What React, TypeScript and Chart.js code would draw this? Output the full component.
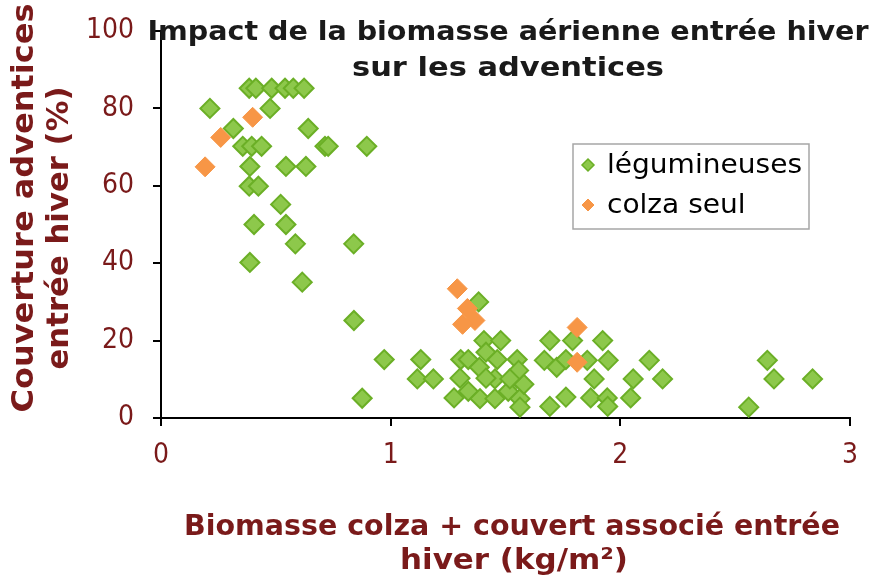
import React, { useEffect, useRef } from "react";
import { Chart, registerables } from "chart.js";

Chart.register(...registerables);

// ---- data ----
const xTicks = [0, 1, 2, 3];
const yTicks = [0, 20, 40, 60, 80, 100];

const seriesNames = ["légumineuses", "colza seul"];

const legumeX = [
  0.384, 0.413, 0.482, 0.540, 0.576, 0.623, 0.213, 0.475, 0.315, 0.641,
  0.356, 0.395, 0.438, 0.714, 0.728, 0.896, 0.387, 0.544, 0.631, 0.384,
  0.424, 0.521, 0.405, 0.544, 0.585, 0.839, 0.387, 0.615, 0.840, 0.972,
  0.876, 1.131, 1.116, 1.186, 1.276, 1.302, 1.305, 1.338, 1.383, 1.406,
  1.479, 1.415, 1.464, 1.551, 1.386, 1.338, 1.389, 1.454, 1.454, 1.512,
  1.549, 1.563, 1.563, 1.580, 1.557, 1.415, 1.693, 1.792, 1.923, 1.669,
  1.723, 1.763, 1.856, 1.947, 1.886, 1.763, 1.693, 1.871, 1.943, 1.945,
  2.056, 2.045, 2.126, 2.184, 2.640, 2.669, 2.837, 2.559, 1.519,
];
const legumeY = [
  85.2, 85.2, 85.2, 85.2, 85.2, 85.2, 80, 80, 74.8, 74.8,
  70.2, 70.2, 70.2, 70.2, 70.2, 70.2, 65, 65, 65, 59.9,
  59.9, 55.2, 50, 50, 45, 45, 40.2, 35.1, 25.2, 15.1,
  5.1, 15.1, 10.1, 10.1, 5.2, 10.3, 15.1, 15.1, 30, 20,
  20, 17, 15.1, 15.1, 13.1, 6.9, 5, 5, 10.1, 6.9,
  10.3, 5, 2.8, 8.7, 12.3, 10.3, 20, 20, 20, 14.9,
  13.1, 15.1, 14.9, 14.9, 10.1, 5.4, 3, 5.2, 5.2, 3,
  10.1, 5.2, 14.9, 10.1, 14.9, 10.1, 10.1, 2.8, 10.1,
];

const colzaX = [0.192, 0.260, 0.399, 1.290, 1.334, 1.367, 1.313, 1.812, 1.812];
const colzaY = [64.9, 72.5, 77.7, 33.4, 28.3, 25.2, 24.2, 23.4, 14.4];

const titleLines = ["Impact de la biomasse aérienne entrée hiver", "sur les adventices"];
const xTitleLines = ["Biomasse colza + couvert associé entrée", "hiver (kg/m²)"];
const yTitleLines = ["Couverture adventices", "entrée hiver (%)"];

// ---- styles ----
const GREEN_FILL = "#8DC84B";
const GREEN_BORDER = "#6BAF26";
const ORANGE = "#F79646";
const AXIS_RED = "#7A1A1A";
const CONDENSED = '"DejaVu Sans Condensed", "Liberation Sans Narrow", "DejaVu Sans", sans-serif';
const SANS = '"DejaVu Sans", Verdana, sans-serif';

function drawFitted(
  ctx: CanvasRenderingContext2D,
  lines: string[],
  pos: [number, number][],
  widths: number[],
  font: string,
  color: string,
  rotate = 0
) {
  ctx.save();
  ctx.font = font;
  ctx.fillStyle = color;
  ctx.textAlign = "center";
  ctx.textBaseline = "alphabetic";
  lines.forEach((t, i) => {
    const s = widths[i] / ctx.measureText(t).width;
    ctx.save();
    ctx.translate(pos[i][0], pos[i][1]);
    ctx.rotate(rotate);
    ctx.scale(s, 1);
    ctx.fillText(t, 0, 0);
    ctx.restore();
  });
  ctx.restore();
}

function diamond(ctx: CanvasRenderingContext2D, x: number, y: number, r: number, fill: string, stroke: string, lw: number) {
  ctx.save();
  ctx.beginPath();
  ctx.moveTo(x, y - r);
  ctx.lineTo(x + r, y);
  ctx.lineTo(x, y + r);
  ctx.lineTo(x - r, y);
  ctx.closePath();
  ctx.fillStyle = fill;
  ctx.fill();
  ctx.lineWidth = lw;
  ctx.strokeStyle = stroke;
  ctx.stroke();
  ctx.restore();
}

const decorPlugin = {
  id: "decor",
  afterDraw(chart: any) {
    const ctx: CanvasRenderingContext2D = chart.ctx;
    // main title
    drawFitted(ctx, titleLines, [[508, 40], [508, 76]], [721, 312], `bold 27px ${CONDENSED}`, "#1A1A1A");
    // x axis title
    drawFitted(ctx, xTitleLines, [[512, 535], [514, 569]], [656, 228], `bold 29px ${CONDENSED}`, AXIS_RED);
    // y axis title (rotated)
    drawFitted(ctx, yTitleLines, [[33, 208], [68, 228]], [409, 283], `bold 30px ${SANS}`, AXIS_RED, -Math.PI / 2);
    // legend
    ctx.save();
    ctx.strokeStyle = "#A6A6A6";
    ctx.lineWidth = 1.5;
    ctx.strokeRect(573, 144, 236, 85);
    ctx.restore();
    const ds = chart.data.datasets;
    diamond(ctx, 588, 165, 6, ds[0].backgroundColor, ds[0].borderColor, 1.5);
    diamond(ctx, 588, 205, 6, ds[1].backgroundColor, ds[1].borderColor, 1);
    ctx.save();
    ctx.font = `27px ${SANS}`;
    const s = 195 / ctx.measureText(seriesNames[0]).width;
    ctx.fillStyle = "#000";
    ctx.textBaseline = "alphabetic";
    ctx.textAlign = "left";
    [[607, 173], [607, 213]].forEach((p, i) => {
      ctx.save();
      ctx.translate(p[0], p[1]);
      ctx.scale(s, 1);
      ctx.fillText(seriesNames[i], 0, 0);
      ctx.restore();
    });
    ctx.restore();
  },
};

export default function App() {
  const ref = useRef<HTMLCanvasElement>(null);
  useEffect(() => {
    if (!ref.current) return;
    const gridOpts = {
      drawOnChartArea: false,
      drawTicks: true,
      tickLength: 8,
      color: "#000",
      lineWidth: 2,
    };
    const chart = new Chart(ref.current, {
      type: "scatter",
      data: {
        datasets: [
          {
            label: seriesNames[0],
            data: legumeX.map((x, i) => ({ x, y: legumeY[i] })),
            pointStyle: "rectRot",
            pointRadius: 9.5,
            borderWidth: 2,
            backgroundColor: GREEN_FILL,
            borderColor: GREEN_BORDER,
            order: 2,
          },
          {
            label: seriesNames[1],
            data: colzaX.map((x, i) => ({ x, y: colzaY[i] })),
            pointStyle: "rectRot",
            pointRadius: 10,
            borderWidth: 1,
            backgroundColor: ORANGE,
            borderColor: ORANGE,
            order: 1,
          },
        ],
      },
      options: {
        animation: false,
        responsive: false,
        events: [],
        layout: { autoPadding: false, padding: { left: 0, top: 31, right: 24, bottom: 0 } },
        plugins: {
          legend: { display: false },
          title: { display: false },
          tooltip: { enabled: false },
        },
        scales: {
          x: {
            type: "linear",
            min: 0,
            max: 3,
            afterBuildTicks: (s: any) => {
              s.ticks = xTicks.map((v) => ({ value: v }));
            },
            afterFit: (s: any) => {
              s.height = 158;
              s.paddingLeft = 0;
              s.paddingRight = 0;
            },
            grid: gridOpts,
            border: { display: true, color: "#000", width: 2 },
            ticks: {
              color: AXIS_RED,
              font: { family: CONDENSED, size: 28 },
              padding: 13,
              maxRotation: 0,
            },
          },
          y: {
            type: "linear",
            min: 0,
            max: 100,
            afterBuildTicks: (s: any) => {
              s.ticks = yTicks.map((v) => ({ value: v }));
            },
            afterFit: (s: any) => {
              s.width = 161;
              s.paddingTop = 0;
              s.paddingBottom = 0;
            },
            grid: gridOpts,
            border: { display: true, color: "#000", width: 2 },
            ticks: {
              color: AXIS_RED,
              font: { family: CONDENSED, size: 28 },
              padding: 19,
            },
          },
        },
      },
      plugins: [decorPlugin],
    });
    return () => chart.destroy();
  }, []);
  return (
    <div style={{ position: "absolute", left: 0, top: 0, width: 874, height: 576, background: "#fff" }}>
      <canvas ref={ref} width={874} height={576} style={{ width: 874, height: 576 }} />
    </div>
  );
}
